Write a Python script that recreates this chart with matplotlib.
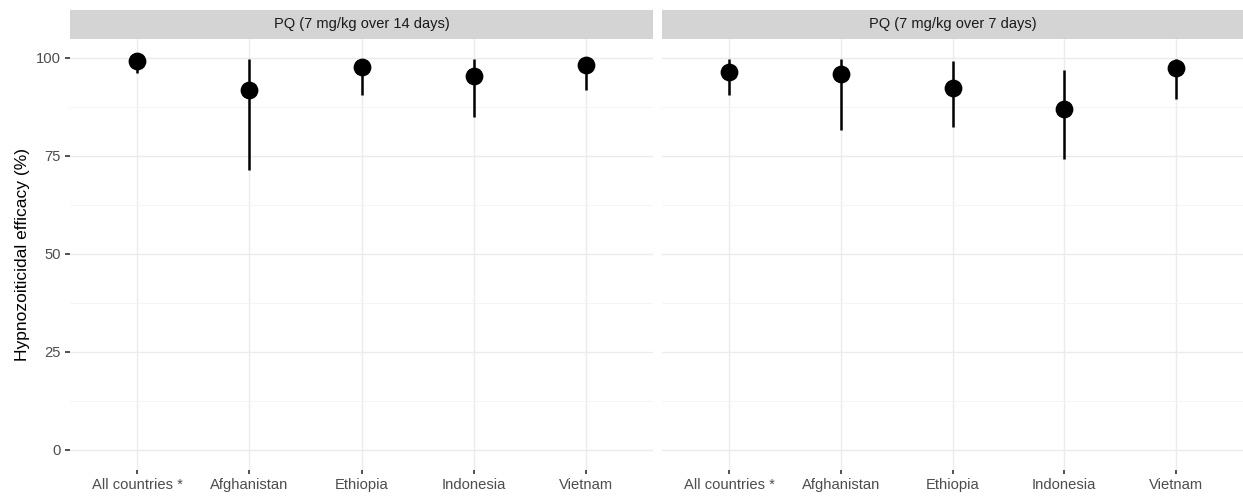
import matplotlib
matplotlib.use("Agg")
import matplotlib.pyplot as plt
from matplotlib.ticker import MultipleLocator

plt.rcParams['font.family'] = ['Liberation Sans', 'DejaVu Sans']

countries = ["All countries *", "Afghanistan", "Ethiopia", "Indonesia", "Vietnam"]
panel_titles = ["PQ (7 mg/kg over 14 days)", "PQ (7 mg/kg over 7 days)"]

# efficacy estimate and 95% CI per country, one list per regimen
est_14d = [99.1, 91.9, 97.7, 95.5, 98.3]
low_14d = [96.2, 71.5, 90.6, 85.0, 91.7]
high_14d = [99.8, 99.6, 99.7, 99.8, 99.8]

est_7d = [96.4, 96.0, 92.3, 87.0, 97.4]
low_7d = [90.6, 81.5, 82.5, 74.2, 89.4]
high_7d = [99.7, 99.7, 99.1, 97.0, 99.8]

W, H = 1243, 496
fig = plt.figure(figsize=(W / 100, H / 100), dpi=100)

panels = [(70, 653), (662, 1243)]
top_px, bot_px = 38.7, 469.6
strip_top = 10

series = [(est_14d, low_14d, high_14d), (est_7d, low_7d, high_7d)]

for i, ((x0, x1), (est, lo, hi), title) in enumerate(zip(panels, series, panel_titles)):
    ax = fig.add_axes([x0 / W, 1 - bot_px / H, (x1 - x0) / W, (bot_px - top_px) / H])
    xs = list(range(1, len(countries) + 1))
    ax.set_xlim(0.4, 5.6)
    ax.set_ylim(-5.0, 104.9)
    ax.yaxis.set_major_locator(MultipleLocator(25))
    ax.yaxis.set_minor_locator(MultipleLocator(12.5))
    ax.set_xticks(xs)
    ax.set_xticklabels(countries)
    ax.grid(True, which='major', color='#EBEBEB', linewidth=1.0)
    ax.grid(True, which='minor', axis='y', color='#F3F3F3', linewidth=0.6)
    ax.set_axisbelow(True)
    for s in ax.spines.values():
        s.set_visible(False)

    ax.vlines(xs, lo, hi, color='black', linewidth=1.8, zorder=3)
    ax.plot(xs, est, 'o', color='black', markersize=11.8, zorder=4)

    ax.tick_params(axis='x', which='major', length=3, width=1.2, color='#333333',
                   labelsize=10.6, labelcolor='#4D4D4D', pad=3)
    ax.tick_params(axis='y', which='minor', length=0)
    if i == 0:
        ax.tick_params(axis='y', which='major', length=3.5, width=1.2, color='#333333',
                       labelsize=10.6, labelcolor='#4D4D4D', pad=3)
        ax.set_ylabel("Hypnozoiticidal efficacy (%)", fontsize=12.5, color='black', labelpad=4)
    else:
        ax.tick_params(axis='y', which='major', length=0, labelleft=False)

    # facet strip
    sax = fig.add_axes([x0 / W, 1 - top_px / H, (x1 - x0) / W, (top_px - strip_top) / H])
    sax.set_facecolor('#D4D4D4')
    sax.set_xticks([])
    sax.set_yticks([])
    for s in sax.spines.values():
        s.set_visible(False)
    sax.text(0.5, 0.5, title, ha='center', va='center', fontsize=10.5, color='#1A1A1A',
             transform=sax.transAxes)

fig.savefig("out.png", dpi=100, facecolor='white')
